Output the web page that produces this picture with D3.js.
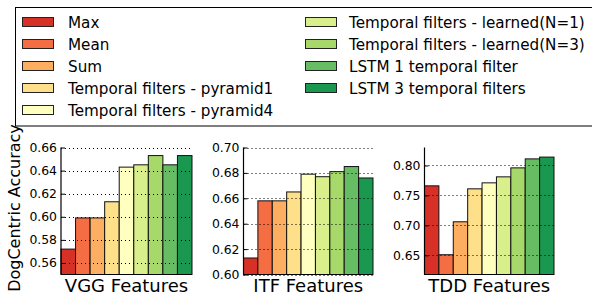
<!DOCTYPE html>
<html>
<head>
<meta charset="utf-8">
<script src="https://cdn.jsdelivr.net/npm/d3@7"></script>
<style>
  body { margin: 0; background: #fff; }
  text { font-family: "DejaVu Sans", sans-serif; fill: #000; }
</style>
</head>
<body>
<div id="chart"></div>
<script>
const width = 592;
const height = 297;

// methods (legend order) and their colours
const methods = ["Max", "Mean", "Sum", "Temporal filters - pyramid1", "Temporal filters - pyramid4",
    "Temporal filters - learned(N=1)", "Temporal filters - learned(N=3)",
    "LSTM 1 temporal filter", "LSTM 3 temporal filters"];
const colors = ["#d73027", "#f46d43", "#fdae61", "#fee08b", "#ffffbf",
    "#d9ef8b", "#a6d96a", "#66bd63", "#1a9850"];

// accuracy per feature type
const vggValues = [0.572, 0.599, 0.599, 0.613, 0.643, 0.645, 0.653, 0.645, 0.653];
const itfValues = [0.613, 0.658, 0.658, 0.665, 0.679, 0.677, 0.681, 0.685, 0.676];
const tddValues = [0.766, 0.651, 0.706, 0.761, 0.771, 0.781, 0.796, 0.811, 0.814];

const vggTicks = [0.56, 0.58, 0.60, 0.62, 0.64, 0.66];
const itfTicks = [0.60, 0.62, 0.64, 0.66, 0.68, 0.70];
const tddTicks = [0.65, 0.70, 0.75, 0.80];

const panels = [
    {title: "VGG Features", values: vggValues, ticks: vggTicks, domain: [0.55, 0.66], x0: 61, x1: 192},
    {title: "ITF Features", values: itfValues, ticks: itfTicks, domain: [0.60, 0.70], x0: 243.5, x1: 373},
    {title: "TDD Features", values: tddValues, ticks: tddTicks, domain: [0.618, 0.83], x0: 424.5, x1: 554}
];

const plotTop = 147.5;
const plotBottom = 274.5;

let svg = d3.select("#chart").append("svg")
    .attr("width", width)
    .attr("height", height);

// legend
let legend = svg.append("g");
legend.append("rect")
    .attr("x", 15.5)
    .attr("y", 7.5)
    .attr("width", 600)
    .attr("height", 118.5)
    .attr("fill", "#fff")
    .attr("stroke", "#000")
    .attr("stroke-width", 1);

methods.forEach((m, i) => {
    let col = i < 5 ? 0 : 1;
    let row = i < 5 ? i : i - 5;
    let gx = col === 0 ? 22.5 : 305.5;
    let gy = 22 + row * 22;
    legend.append("rect")
        .attr("x", gx)
        .attr("y", gy - 4.5)
        .attr("width", 31)
        .attr("height", 9)
        .attr("fill", colors[i])
        .attr("stroke", "#222")
        .attr("stroke-width", 1);
    legend.append("text")
        .attr("x", col === 0 ? 68 : 349)
        .attr("y", gy + 5.5)
        .style("font-size", "15.2px")
        .text(m);
});

// y axis label
svg.append("text")
    .attr("text-anchor", "middle")
    .attr("transform", "translate(20, 208) rotate(-90)")
    .style("font-size", "16px")
    .text("DogCentric Accuracy");

panels.forEach(p => {
    let g = svg.append("g");

    let x = d3.scaleBand()
        .domain(methods)
        .range([p.x0, p.x1])
        .padding(0);

    let y = d3.scaleLinear()
        .domain(p.domain)
        .range([plotBottom, plotTop]);

    // bars
    g.selectAll("rect.bar")
        .data(p.values)
        .enter()
        .append("rect")
        .attr("class", "bar")
        .attr("x", (d, i) => x(methods[i]))
        .attr("y", d => y(d))
        .attr("width", x.bandwidth())
        .attr("height", d => plotBottom - y(d))
        .attr("fill", (d, i) => colors[i])
        .attr("stroke", "#111")
        .attr("stroke-width", 1);

    // dotted grid on top of bars
    g.selectAll("line.grid")
        .data(p.ticks)
        .enter()
        .append("line")
        .attr("class", "grid")
        .attr("x1", p.x0)
        .attr("x2", p.x1)
        .attr("y1", d => Math.round(y(d)) + 0.5)
        .attr("y2", d => Math.round(y(d)) + 0.5)
        .attr("stroke", "#000")
        .attr("stroke-width", 1)
        .attr("stroke-dasharray", "1,3");

    // left axis, ticks pointing inward
    let yAxis = g.append("g")
        .attr("transform", `translate(${p.x0},0)`)
        .call(d3.axisRight(y).tickValues(p.ticks).tickSize(4).tickFormat(d3.format(".2f")));
    yAxis.select(".domain").remove();
    yAxis.selectAll(".tick line").attr("stroke", "#000");
    yAxis.selectAll(".tick text")
        .attr("x", -4)
        .attr("text-anchor", "end")
        .style("font-size", "12.4px")
        .style("font-family", "DejaVu Sans, sans-serif");

    // spines
    g.append("line")
        .attr("x1", p.x0).attr("x2", p.x0)
        .attr("y1", plotTop).attr("y2", plotBottom)
        .attr("stroke", "#000").attr("stroke-width", 1.2);
    g.append("line")
        .attr("x1", p.x0).attr("x2", p.x1)
        .attr("y1", plotBottom).attr("y2", plotBottom)
        .attr("stroke", "#000").attr("stroke-width", 1.2);

    // panel title under bars
    g.append("text")
        .attr("x", (p.x0 + p.x1) / 2)
        .attr("y", 292)
        .attr("text-anchor", "middle")
        .style("font-size", "18px")
        .text(p.title);
});
</script>
</body>
</html>
